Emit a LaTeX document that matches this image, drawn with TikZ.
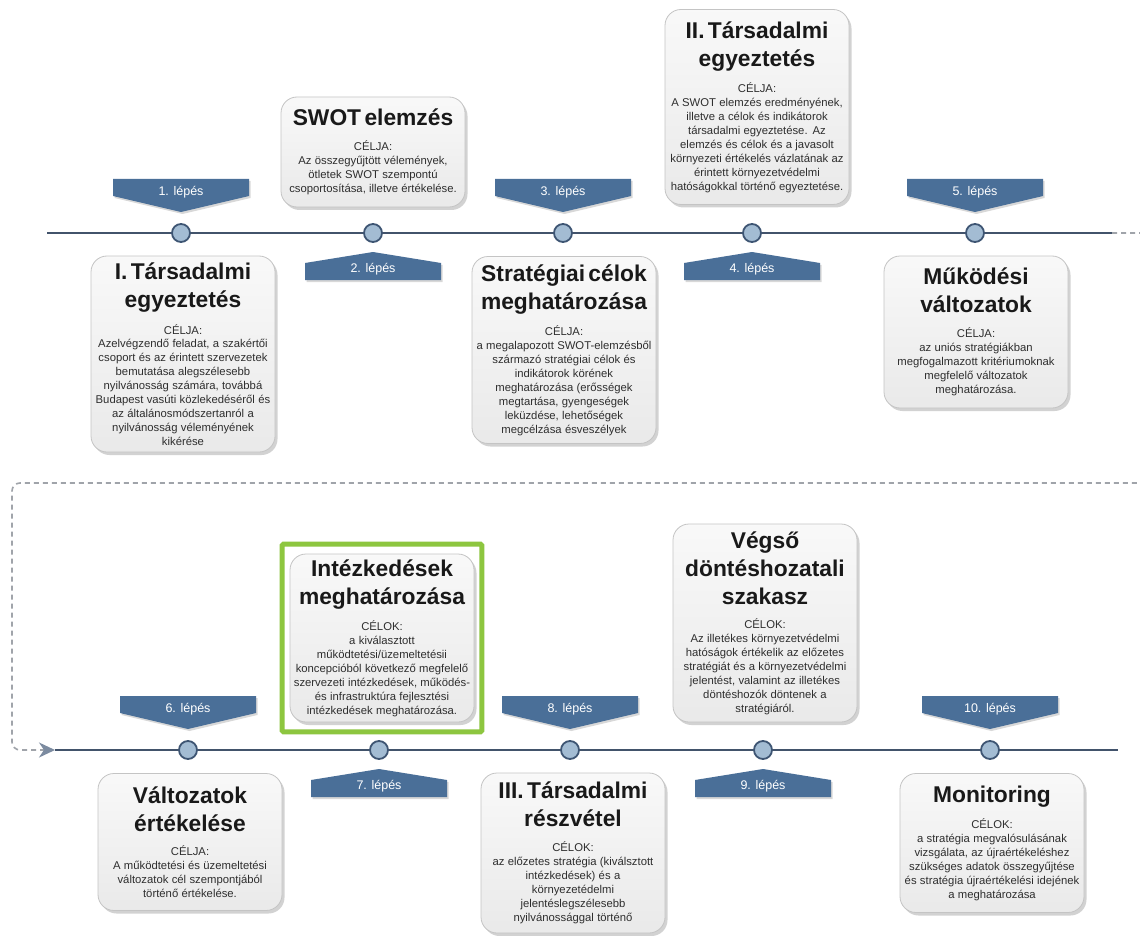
\documentclass[tikz,border=0pt]{standalone}
\usepackage{fontspec}
\setmainfont{Liberation Sans}
\usepackage{xcolor}
\definecolor{LepesBlue}{HTML}{4A6F98}
\definecolor{DotFill}{HTML}{A3BCD3}
\definecolor{DotLine}{HTML}{3E5573}
\definecolor{TimeLine}{HTML}{42536B}
\definecolor{WrapGray}{HTML}{A0A4AA}
\definecolor{TipGray}{HTML}{7C8BA0}
\definecolor{BoxLine}{HTML}{C4C4C4}
\definecolor{BodyGray}{HTML}{2E2E2E}
\definecolor{HiGreen}{HTML}{8DC63F}
\usetikzlibrary{arrows.meta,positioning,fit,calc,shadows}

\newcommand{\ttlfont}{\fontsize{22.8}{28}\selectfont\bfseries\color{black!90}}
\newcommand{\bdyfont}{\fontsize{11.3}{13.9}\selectfont\color{BodyGray}}
\newcommand{\phasetext}[2]{{\ttlfont #1\par}\vspace{11pt}{\bdyfont #2\par}}

\tikzset{
  phase/.style={draw=BoxLine, line width=0.8pt, rounded corners=16pt,
                top color=gray!5, bottom color=gray!17,
                drop shadow={shadow xshift=2.5pt, shadow yshift=-3pt, opacity=0.35},
                align=center, minimum width=184pt, text width=182pt, inner sep=1pt},
  lepflag/.style={fill=LepesBlue, drop shadow={shadow xshift=1.5pt, shadow yshift=-2pt, opacity=0.3}},
  leptext/.style={text=white, font=\fontsize{12.5}{14}\selectfont, inner sep=0pt},
  lepdot/.style={circle, fill=DotFill, draw=DotLine, line width=1.8pt, minimum size=18pt, inner sep=0pt},
  tl/.style={TimeLine, line width=2pt},
  wrapline/.style={WrapGray, line width=1.6pt, dash pattern=on 5pt off 4pt, rounded corners=8pt},
  hiframe/.style={draw=HiGreen, line width=5pt, rounded corners=1.5pt, inner xsep=7.5pt, inner ysep=9.5pt}
}

% step flags: #1 dot, #2 name, #3 label
\newcommand{\lepesdown}[3]{%
  \fill[lepflag] ($(#1)+(-68,-54)$) -- ($(#1)+(68,-54)$) -- ($(#1)+(68,-37)$)
     -- ($(#1)+(0,-21)$) -- ($(#1)+(-68,-37)$) -- cycle;
  \node[leptext] (#2) at ($(#1)+(0,-41)$) {#3};}
\newcommand{\lepesup}[3]{%
  \fill[lepflag] ($(#1)+(-68,47)$) -- ($(#1)+(-68,30)$) -- ($(#1)+(0,19)$)
     -- ($(#1)+(68,30)$) -- ($(#1)+(68,47)$) -- cycle;
  \node[leptext] (#2) at ($(#1)+(0,36)$) {#3};}

\begin{document}
\begin{tikzpicture}[x=1pt, y=-1pt]
\fill[white] (0,0) rectangle (1140,936);
\useasboundingbox (0,0) rectangle (1140,936);
\clip (0,0) rectangle (1140,936);

% timelines
\coordinate (t1a) at (47,233);
\coordinate (t1b) at (1112,233);
\coordinate (t2a) at (55,750);
\coordinate (t2b) at (1118,750);
\coordinate (wrapR) at (1165,483);
\coordinate (wrapL) at (12,483);
\draw[wrapline, -{Stealth[length=16pt, width=15pt, inset=5pt, color=TipGray]}] (t1b) -| (wrapR) -- (wrapL) |- (t2a);
\draw[tl] (t1a) -- (t1b);
\draw[tl] (t2a) -- (t2b);

\node[lepdot] (c1) at (181,233) {};
\node[lepdot] (c2) at (373,233) {};
\node[lepdot] (c3) at (563,233) {};
\node[lepdot] (c4) at (752,233) {};
\node[lepdot] (c5) at (975,233) {};
\node[lepdot] (c6) at (188,750) {};
\node[lepdot] (c7) at (379,750) {};
\node[lepdot] (c8) at (570,750) {};
\node[lepdot] (c9) at (763,750) {};
\node[lepdot] (c10) at (990,750) {};

\lepesdown{c1}{l1}{1. lépés}
\lepesup{c2}{l2}{2. lépés}
\lepesdown{c3}{l3}{3. lépés}
\lepesup{c4}{l4}{4. lépés}
\lepesdown{c5}{l5}{5. lépés}
\lepesdown{c6}{l6}{6. lépés}
\lepesup{c7}{l7}{7. lépés}
\lepesdown{c8}{l8}{8. lépés}
\lepesup{c9}{l9}{9. lépés}
\lepesdown{c10}{l10}{10. lépés}

% phases, first row
\node[phase, minimum height=110pt] (swot) at (373,152) {\phasetext{SWOT elemzés}{CÉLJA:\\Az összegyűjtött vélemények,\\ötletek SWOT szempontú\\csoportosítása, illetve értékelése.}};
\node[phase, minimum height=195pt] (tars2) at (757,107) {\phasetext{II. Társadalmi\\egyeztetés}{CÉLJA:\\A SWOT elemzés eredményének,\\illetve a célok és indikátorok\\társadalmi egyeztetése. Az\\elemzés és célok és a javasolt\\környezeti értékelés vázlatának az\\érintett környezetvédelmi\\hatóságokkal történő egyeztetése.}};
\node[phase, minimum height=196pt] (tars1) at (183,354) {\phasetext{I. Társadalmi\\egyeztetés}{CÉLJA:\\Azelvégzendő feladat, a szakértői\\csoport és az érintett szervezetek\\bemutatása alegszélesebb\\nyilvánosság számára, továbbá\\Budapest vasúti közlekedéséről és\\az általánosmódszertanról a\\nyilvánosság véleményének\\kikérése}};
\node[phase, minimum height=187pt] (strat) at (564,350) {\phasetext{Stratégiai célok\\meghatározása}{CÉLJA:\\a megalapozott SWOT-elemzésből\\származó stratégiai célok és\\indikátorok körének\\meghatározása (erősségek\\megtartása, gyengeségek\\leküzdése, lehetőségek\\megcélzása ésveszélyek}};
\node[phase, minimum height=152pt] (mukod) at (976,332) {\phasetext{Működési\\változatok}{CÉLJA:\\az uniós stratégiákban\\megfogalmazott kritériumoknak\\megfelelő változatok\\meghatározása.}};

% phases, second row
\node[phase, minimum height=168pt] (intez) at (382,638) {\phasetext{Intézkedések\\meghatározása}{CÉLOK:\\a kiválasztott\\működtetési/üzemeltetésii\\koncepcióból következő megfelelő\\szervezeti intézkedések, működés-\\és infrastruktúra fejlesztési\\intézkedések meghatározása.}};
\node[hiframe, fit=(intez)] (intezframe) {};
\node[phase, minimum height=198pt] (vegso) at (765,623) {\phasetext{Végső\\döntéshozatali\\szakasz}{CÉLOK:\\Az illetékes környezetvédelmi\\hatóságok értékelik az előzetes\\stratégiát és a környezetvédelmi\\jelentést, valamint az illetékes\\döntéshozók döntenek a\\stratégiáról.}};
\node[phase, minimum height=137pt] (valt) at (190,842) {\phasetext{Változatok\\értékelése}{CÉLJA:\\A működtetési és üzemeltetési\\változatok cél szempontjából\\történő értékelése.}};
\node[phase, minimum height=160pt] (tars3) at (573,853) {\phasetext{III. Társadalmi\\részvétel}{CÉLOK:\\az előzetes stratégia (kiválsztott\\intézkedések) és a\\környezetédelmi\\jelentéslegszélesebb\\nyilvánossággal történő}};
\node[phase, minimum height=139pt] (monit) at (992,843) {\phasetext{Monitoring}{CÉLOK:\\a stratégia megvalósulásának\\vizsgálata, az újraértékeléshez\\szükséges adatok összegyűjtése\\és stratégia újraértékelési idejének\\a meghatározása}};
\end{tikzpicture}
\end{document}
